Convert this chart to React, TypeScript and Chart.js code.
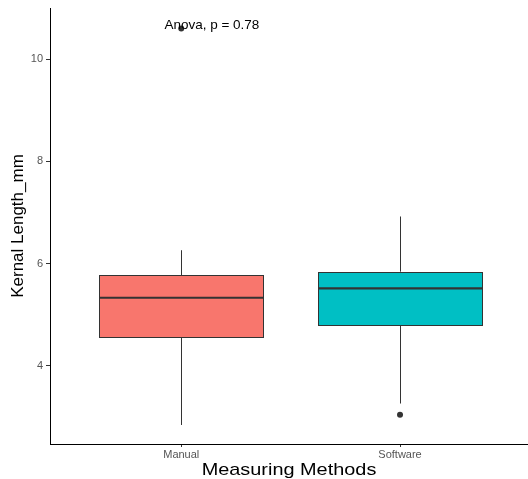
import React, { useEffect, useRef } from "react";
import { Chart, registerables } from "chart.js";

Chart.register(...registerables);

// ---- data ----
const categories = ["Manual", "Software"];
const lowerWhisker = [2.84, 3.26];
const q1 = [4.56, 4.79];
const median = [5.33, 5.515];
const q3 = [5.77, 5.84];
const upperWhisker = [6.26, 6.92];
const outliers = [[10.6], [3.04]];
const yTicks = [4, 6, 8, 10];
const boxColors = ["#F8766D", "#00BFC4"];
const annotationText = "Anova, p = 0.78";
const yTitle = "Kernal Length_mm";
const xTitle = "Measuring Methods";

// ---- layout / style constants ----
const BOX_WIDTH = 0.75;
const FONT = "'Liberation Sans', Arial, Helvetica, sans-serif";
const ANNOT_X = 1.14;
const ANNOT_Y = 10.67;
const H_STRETCH = 1.17;

const boxPlugin = {
  id: "ggBoxes",
  beforeDatasetsDraw(chart: any) {
    const { ctx, scales } = chart;
    const x = scales.x;
    const y = scales.y;
    ctx.save();
    categories.forEach((_c, i) => {
      const pos = i + 1;
      const cx = x.getPixelForValue(pos);
      const left = x.getPixelForValue(pos - BOX_WIDTH / 2);
      const right = x.getPixelForValue(pos + BOX_WIDTH / 2);
      const pLow = y.getPixelForValue(lowerWhisker[i]);
      const pQ1 = y.getPixelForValue(q1[i]);
      const pMed = y.getPixelForValue(median[i]);
      const pQ3 = y.getPixelForValue(q3[i]);
      const pHigh = y.getPixelForValue(upperWhisker[i]);
      const lx = Math.round(cx) + 0.5;
      ctx.strokeStyle = "#333333";
      ctx.lineWidth = 1;
      ctx.beginPath();
      ctx.moveTo(lx, pHigh);
      ctx.lineTo(lx, pQ3);
      ctx.moveTo(lx, pQ1);
      ctx.lineTo(lx, pLow);
      ctx.stroke();
      const bl = Math.round(left) + 0.5;
      const br = Math.round(right) + 0.5;
      const bt = Math.round(pQ3) + 0.5;
      const bb = Math.round(pQ1) + 0.5;
      ctx.fillStyle = boxColors[i];
      ctx.fillRect(bl, bt, br - bl, bb - bt);
      ctx.strokeStyle = "#333333";
      ctx.lineWidth = 1;
      ctx.strokeRect(bl, bt, br - bl, bb - bt);
      ctx.lineWidth = 2.2;
      ctx.beginPath();
      ctx.moveTo(bl, pMed);
      ctx.lineTo(br, pMed);
      ctx.stroke();
    });
    ctx.restore();
  },
  afterDatasetsDraw(chart: any) {
    const { ctx, scales, chartArea } = chart;
    ctx.save();
    ctx.fillStyle = "#000000";
    ctx.font = `13.5px ${FONT}`;
    ctx.textAlign = "center";
    ctx.textBaseline = "middle";
    ctx.fillText(
      annotationText,
      scales.x.getPixelForValue(ANNOT_X),
      scales.y.getPixelForValue(ANNOT_Y)
    );
    ctx.restore();

    ctx.save();
    ctx.fillStyle = "#000000";
    ctx.font = `17px ${FONT}`;
    ctx.textAlign = "center";
    ctx.textBaseline = "alphabetic";
    ctx.translate((chartArea.left + chartArea.right) / 2, scales.x.bottom - 4);
    ctx.scale(H_STRETCH, 1);
    ctx.fillText(xTitle, 0, 0);
    ctx.restore();
  },
};

export default function App() {
  const ref = useRef<HTMLCanvasElement | null>(null);

  useEffect(() => {
    if (!ref.current) return;
    const outlierPoints: { x: number; y: number }[] = [];
    outliers.forEach((arr, i) => arr.forEach((v) => outlierPoints.push({ x: i + 1, y: v })));

    const chart = new Chart(ref.current, {
      type: "scatter",
      data: {
        datasets: [
          {
            label: "outliers",
            data: outlierPoints,
            pointRadius: 3,
            pointHoverRadius: 3,
            pointBackgroundColor: "#333333",
            pointBorderColor: "#333333",
            pointBorderWidth: 0,
          },
        ],
      },
      plugins: [boxPlugin],
      options: {
        animation: false,
        responsive: false,
        layout: { autoPadding: false, padding: { top: 8, right: 0, left: 0, bottom: 0 } },
        plugins: {
          legend: { display: false },
          tooltip: { enabled: false },
        },
        scales: {
          x: {
            type: "linear",
            min: 0.4,
            max: 2.585,
            afterBuildTicks: (scale: any) => {
              scale.ticks = categories.map((_c, i) => ({ value: i + 1 }));
            },
            afterFit: (scale: any) => {
              scale.height = 35;
              scale.paddingLeft = 0;
              scale.paddingRight = 0;
            },
            ticks: {
              callback: (v: any) => categories[Number(v) - 1] ?? "",
              color: "#555555",
              font: { family: FONT, size: 11 },
              padding: 1,
              maxRotation: 0,
              autoSkip: false,
            },
            grid: {
              display: true,
              drawOnChartArea: false,
              drawTicks: true,
              tickLength: 3,
              tickColor: "#333333",
              tickWidth: 1,
            },
            border: { display: true, color: "#000000", width: 1 },
            title: { display: false },
          },
          y: {
            type: "linear",
            min: 2.468,
            max: 11.0,
            afterBuildTicks: (scale: any) => {
              scale.ticks = yTicks.map((v) => ({ value: v }));
            },
            afterFit: (scale: any) => {
              scale.width = 50;
              scale.paddingTop = 0;
              scale.paddingBottom = 0;
            },
            ticks: {
              color: "#555555",
              font: { family: FONT, size: 11 },
              padding: 3,
            },
            grid: {
              display: true,
              drawOnChartArea: false,
              drawTicks: true,
              tickLength: 4,
              tickColor: "#333333",
              tickWidth: 1,
            },
            border: { display: true, color: "#000000", width: 1 },
            title: {
              display: true,
              text: yTitle,
              color: "#000000",
              font: { family: FONT, size: 17, lineHeight: 1 },
              padding: { top: 10, bottom: 0 },
            },
          },
        },
      },
    } as any);
    return () => chart.destroy();
  }, []);

  return (
    <div style={{ position: "absolute", left: 0, top: 0, width: 528, height: 479, background: "#fff" }}>
      <canvas ref={ref} width={528} height={479} style={{ display: "block" }} />
    </div>
  );
}
